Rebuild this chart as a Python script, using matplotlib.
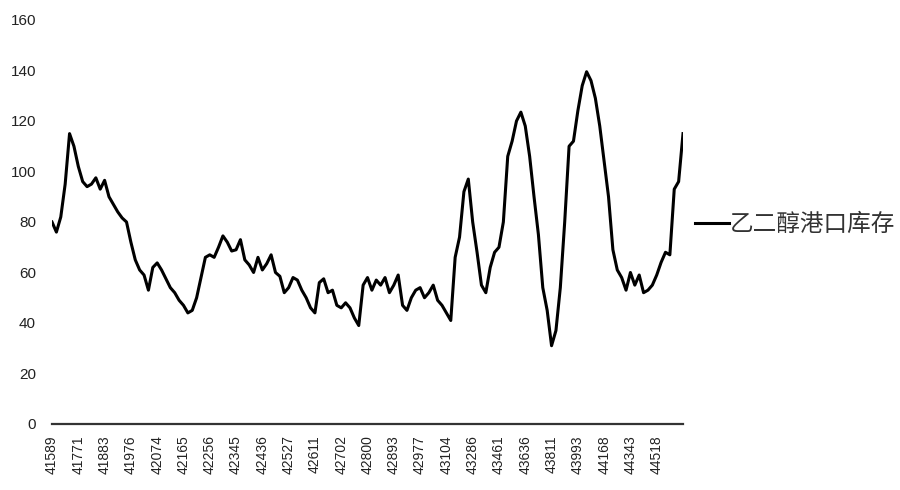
import matplotlib
matplotlib.use("Agg")
import matplotlib.pyplot as plt

plt.rcParams["font.family"] = ["Liberation Sans", "Noto Sans CJK SC", "DejaVu Sans"]

# category tick labels (Excel date serials as shown on the axis)
tick_labels = ["41589", "41771", "41883", "41976", "42074", "42165", "42256", "42345",
               "42436", "42527", "42611", "42702", "42800", "42893", "42977", "43104",
               "43286", "43461", "43636", "43811", "43993", "44168", "44343", "44518"]
tick_step = 6

# port inventory values
inventory = [
    80, 76, 82, 95, 115, 110, 102, 96, 94, 95,
    97.5, 93, 96.5, 90, 87, 84, 81.6, 80, 72, 65,
    61, 59, 53, 62, 63.8, 61, 57.5, 54, 52, 49,
    47, 44, 45, 50, 58, 66, 67, 66, 70, 74.5,
    72, 68.5, 69, 73, 65, 63, 60, 66, 61, 63.5,
    67, 60, 58.5, 52, 54, 58, 57, 53, 50, 46,
    44, 56, 57.5, 52, 53, 47, 46, 48, 46, 42,
    39, 55, 58, 53, 57, 55, 58, 52, 55, 59,
    47, 45, 50, 53, 54, 50, 52, 55, 49, 47,
    44, 41, 66, 74, 92, 97, 80, 68, 55, 52,
    62, 68, 70, 80, 106, 112, 120, 123.5, 118, 106,
    90, 75, 54, 45, 31, 37, 54, 80, 110, 112,
    124, 134, 139.5, 136, 129, 118, 104, 90, 69, 61,
    58, 53, 60, 55, 59, 52, 53, 55, 59, 64,
    68, 67, 93, 96, 115,
]
series_name = "乙二醇港口库存"

fig = plt.figure(figsize=(9, 4.9), dpi=100)
ax = fig.add_axes([0.0578, 0.1347, 0.7011, 0.8245])

x = list(range(len(inventory)))
ax.plot(x, inventory, color="black", lw=2.2, label=series_name)

ax.set_xlim(0, len(inventory) - 1)
ax.set_ylim(0, 160)
ax.set_yticks(range(0, 161, 20))
ax.set_xticks([i * tick_step for i in range(len(tick_labels))])
ax.set_xticklabels(tick_labels, rotation=90, fontsize=10, color="#222222")
ax.tick_params(axis="y", length=0, pad=11.5, labelsize=11, labelcolor="#222222")
ax.tick_params(axis="x", length=0, pad=8)

for side in ["left", "right", "top"]:
    ax.spines[side].set_visible(False)
ax.spines["bottom"].set_color("#333333")
ax.spines["bottom"].set_linewidth(1.6)

ax.legend(loc="center left", bbox_to_anchor=(1.0, 0.4926), frameon=False,
          fontsize=17, handlelength=1.45, handletextpad=0.05, borderaxespad=0.1,
          labelcolor="#333333")

fig.savefig("out.png", dpi=100, facecolor="white")
